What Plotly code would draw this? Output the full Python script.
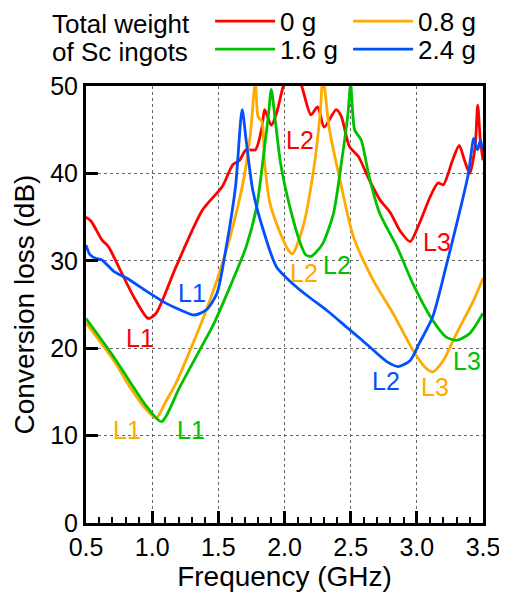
import plotly.graph_objects as go

FONT = "Liberation Sans, Arial, sans-serif"

# ---- data ----
f_0g = [0.50, 0.54, 0.62, 0.67, 0.76, 0.86, 0.97, 1.03, 1.18, 1.38, 1.53, 1.61, 1.66, 1.71,
        1.78, 1.83, 1.85, 1.90, 1.94, 1.99, 2.05, 2.13, 2.20, 2.25, 2.30, 2.39, 2.43, 2.49,
        2.56, 2.63, 2.72, 2.80, 2.87, 2.95, 3.02, 3.10, 3.16, 3.20, 3.27, 3.32, 3.36, 3.40,
        3.44, 3.46, 3.48, 3.50]
db_0g = [35.0, 34.5, 32.4, 31.6, 28.9, 25.9, 23.4, 24.0, 29.3, 35.8, 38.5, 41.0, 41.5, 42.7,
         42.7, 45.3, 47.3, 45.5, 46.9, 50.0, 53.0, 50.0, 46.7, 47.6, 45.3, 47.3, 46.5, 43.1,
         41.9, 39.6, 37.0, 35.5, 33.5, 32.2, 34.3, 37.3, 38.9, 38.7, 41.5, 43.2, 41.5, 40.0,
         43.0, 47.8, 43.8, 41.5]

f_08g = [0.50, 0.71, 0.83, 0.96, 1.03, 1.10, 1.18, 1.31, 1.40, 1.49, 1.59, 1.69, 1.74, 1.78,
         1.80, 1.83, 1.85, 1.89, 1.97, 2.03, 2.06, 2.14, 2.22, 2.27, 2.29, 2.34, 2.42, 2.52,
         2.67, 2.82, 2.97, 3.07, 3.12, 3.20, 3.30, 3.43, 3.50]
db_08g = [22.9, 18.6, 15.6, 12.9, 12.0, 13.8, 16.0, 20.6, 24.0, 27.8, 32.8, 39.2, 44.2, 50.5,
          46.5, 45.9, 41.2, 36.6, 33.1, 31.2, 30.8, 33.9, 40.4, 46.9, 51.0, 45.0, 39.2, 32.8,
          27.8, 24.0, 19.8, 17.7, 17.3, 18.6, 21.7, 25.5, 28.0]

f_16g = [0.50, 0.71, 0.83, 0.96, 1.07, 1.21, 1.36, 1.46, 1.59, 1.71, 1.79, 1.85, 1.88, 1.90,
         1.93, 1.97, 2.04, 2.12, 2.16, 2.20, 2.24, 2.29, 2.37, 2.43, 2.48, 2.50, 2.53, 2.58,
         2.64, 2.72, 2.85, 2.97, 3.12, 3.22, 3.30, 3.40, 3.50]
db_16g = [23.4, 19.0, 16.2, 13.3, 11.6, 15.6, 19.8, 22.6, 27.1, 31.6, 36.2, 43.1, 46.9, 49.6,
          46.1, 41.2, 36.2, 32.0, 30.7, 30.5, 31.0, 32.0, 35.4, 41.2, 46.9, 50.2, 45.0, 43.8,
          39.6, 35.4, 31.6, 27.4, 23.2, 21.3, 20.9, 21.7, 24.0]

f_24g = [0.50, 0.53, 0.57, 0.62, 0.71, 0.81, 0.96, 1.11, 1.21, 1.32, 1.41, 1.49, 1.56, 1.63,
         1.68, 1.71, 1.76, 1.84, 1.94, 2.09, 2.19, 2.33, 2.47, 2.58, 2.67, 2.77, 2.86, 2.95,
         3.02, 3.12, 3.22, 3.32, 3.39, 3.43, 3.45, 3.46, 3.48, 3.49, 3.50]
db_24g = [31.8, 30.7, 30.3, 30.1, 28.8, 28.0, 26.5, 25.1, 24.4, 23.8, 24.4, 26.3, 31.6, 38.5,
          47.3, 43.8, 38.1, 33.5, 29.3, 27.0, 25.8, 24.2, 22.4, 21.0, 19.8, 18.5, 17.9, 18.6,
          20.6, 23.6, 29.3, 35.4, 40.0, 44.0, 43.0, 42.7, 43.8, 43.2, 42.7]

series_names = ["0 g", "0.8 g", "1.6 g", "2.4 g"]
series_colors = ["#ff0000", "#ffaa00", "#00c000", "#0050ff"]
series_legend = ["legend", "legend", "legend2", "legend2"]
series_x = [f_0g, f_08g, f_16g, f_24g]
series_y = [db_0g, db_08g, db_16g, db_24g]

legend_title_lines = ["Total weight", "of Sc ingots"]

# mode labels: text, frequency, dB, series index
label_text = ["L1", "L2", "L3", "L1", "L2", "L3", "L1", "L2", "L3", "L1", "L2"]
label_f = [0.91, 2.12, 3.15, 0.81, 2.15, 3.14, 1.29, 2.40, 3.38, 1.30, 2.77]
label_db = [21.2, 43.8, 32.2, 10.6, 28.6, 15.6, 10.6, 29.5, 18.5, 26.3, 16.2]
label_series = [0, 0, 0, 1, 1, 1, 2, 2, 2, 3, 3]

x_range = [0.5, 3.5]
y_range = [0, 50]

fig = go.Figure()
for name, col, lg, xs, ys in zip(series_names, series_colors, series_legend, series_x, series_y):
    fig.add_trace(go.Scatter(x=xs, y=ys, mode="lines", name=name, legend=lg,
                             line=dict(color=col, width=2.8, shape="spline", smoothing=0.7)))

for t, fx, fy, si in zip(label_text, label_f, label_db, label_series):
    fig.add_annotation(x=fx, y=fy, text=t, showarrow=False,
                       font=dict(family=FONT, size=25, color=series_colors[si]))

# legend title (two lines, left of the legend rows)
title_y = [1.142, 1.078]
for txt, ry in zip(legend_title_lines, title_y):
    fig.add_annotation(xref="paper", yref="paper", x=-0.091, y=ry, text=txt,
                       xanchor="left", yanchor="middle", showarrow=False,
                       font=dict(family=FONT, size=26, color="black"))

leg_common = dict(orientation="h", x=0.3126, xanchor="left", yanchor="middle",
                  font=dict(family=FONT, size=26, color="black"),
                  entrywidth=63, entrywidthmode="pixels", itemwidth=60,
                  bgcolor="rgba(0,0,0,0)", borderwidth=0)

# the page body adds an 8 px offset, so the figure is 8 px smaller than the window
fig.update_layout(
    width=499, height=584,
    margin=dict(l=78, r=24, t=78, b=69, autoexpand=False),
    plot_bgcolor="white", paper_bgcolor="white",
    font=dict(family=FONT, size=25, color="black"),
    showlegend=True,
    legend=dict(y=1.148, **leg_common),
    legend2=dict(y=1.084, **leg_common),
    xaxis=dict(
        range=x_range, dtick=0.5, tick0=0.5, tickformat=".1f",
        ticks="inside", ticklen=12, tickwidth=3, tickcolor="black",
        showline=True, linewidth=3, linecolor="black", mirror=True,
        showgrid=True, gridcolor="#666666", griddash="dot", gridwidth=1,
        zeroline=False,
        minor=dict(dtick=0.1, ticks="inside", ticklen=6, tickwidth=2, tickcolor="black",
                   showgrid=False),
        tickfont=dict(family=FONT, size=25),
        title=dict(text="Frequency (GHz)", font=dict(family=FONT, size=28), standoff=0),
    ),
    yaxis=dict(
        range=y_range, dtick=10, tick0=0,
        ticks="inside", ticklen=12, tickwidth=3, tickcolor="black",
        showline=True, linewidth=3, linecolor="black", mirror=True,
        showgrid=True, gridcolor="#666666", griddash="dot", gridwidth=1,
        zeroline=False,
        tickfont=dict(family=FONT, size=25),
        title=dict(text="Conversion loss (dB)", font=dict(family=FONT, size=28), standoff=8),
    ),
)

fig.write_html("out.html")
